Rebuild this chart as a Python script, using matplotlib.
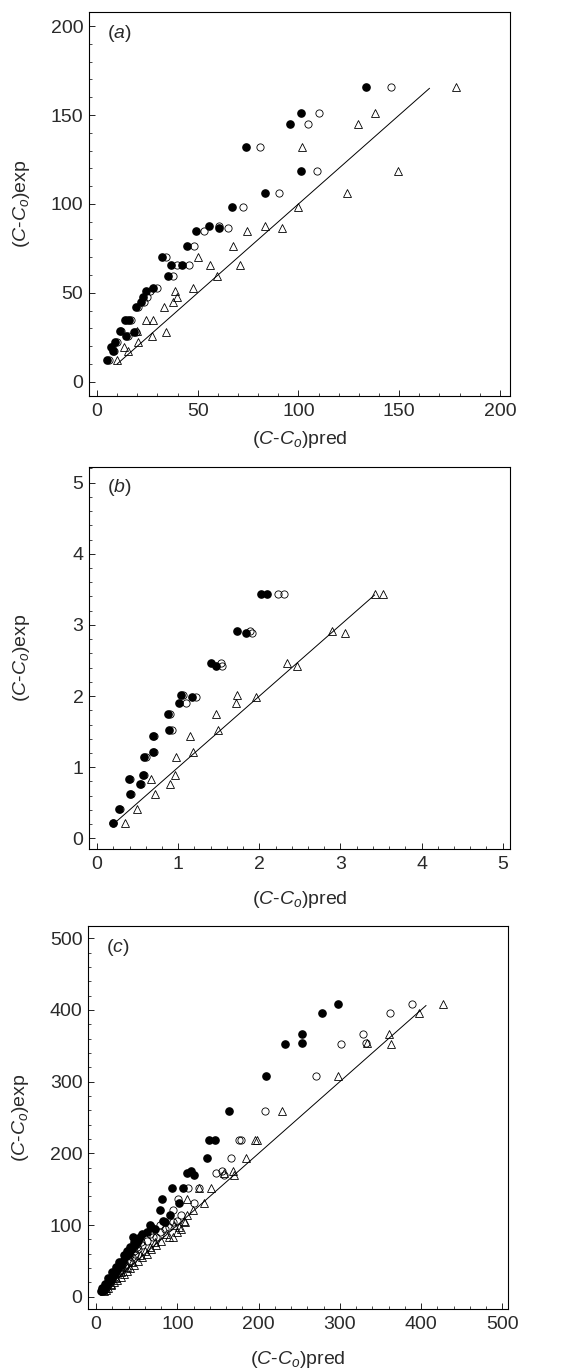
import numpy as np
import matplotlib
matplotlib.use("Agg")
import matplotlib.pyplot as plt
from matplotlib.ticker import MultipleLocator

# panel (a): experimental values and three predictions
exp_a = [12, 17.5, 19.8, 22.6, 25.5, 28.5, 28, 34.5, 34.5, 42, 45, 47.5, 51.3, 52.6,
         59.6, 65.7, 65.7, 70, 76.4, 84.6, 86.2, 87.8, 98, 106, 118.7, 132, 145, 151, 166]
fill_a = [5, 8, 7, 9, 14.2, 11.3, 18.3, 13.7, 15.8, 19.4, 21.9, 23, 24.3, 27.6,
          35.3, 36.8, 42.3, 32, 44.4, 48.9, 60.6, 55.7, 66.8, 83.2, 101, 74, 96, 101, 133.3]
open_a = [6, 8.5, 7.5, 10, 15.2, 12, 19.5, 15, 17, 20.4, 23.5, 25, 26.5, 29.8,
          37.7, 39.9, 45.6, 34.3, 48, 52.9, 65.2, 60.3, 72.5, 90.2, 109.3, 80.7, 104.7, 110, 145.7]
tri_a = [10, 15.5, 13.5, 20.3, 27.3, 20, 34.3, 24.3, 28, 33.2, 37.5, 39.6, 38.7, 47.7,
         59.6, 55.9, 71.2, 50, 67.6, 74.5, 91.7, 83.3, 100, 124, 149.3, 101.5, 129.4, 138, 178]
line_a = [10, 165]

# panel (b)
exp_b = [0.22, 0.42, 0.62, 0.83, 0.76, 0.89, 1.15, 1.21, 1.44, 1.52, 1.75, 1.90, 2.01,
         1.99, 2.46, 2.42, 2.92, 2.89, 3.43, 3.44]
fill_b = [0.19, 0.27, 0.41, 0.39, 0.53, 0.56, 0.58, 0.69, 0.69, 0.88, 0.87, 1.01, 1.03,
          1.17, 1.40, 1.47, 1.73, 1.83, 2.02, 2.09]
open_b = [0.20, 0.28, 0.42, 0.40, 0.54, 0.58, 0.60, 0.70, 0.70, 0.92, 0.90, 1.09, 1.06,
          1.22, 1.53, 1.54, 1.89, 1.91, 2.23, 2.30]
tri_b = [0.34, 0.49, 0.71, 0.66, 0.90, 0.96, 0.97, 1.18, 1.15, 1.49, 1.46, 1.71, 1.72,
         1.96, 2.34, 2.46, 2.89, 3.06, 3.42, 3.53]
line_b = [0.22, 3.42]

# panel (c)
exp_c = [8, 10, 13, 16, 20, 24, 28, 32, 36, 40, 45, 50, 55, 60, 66, 72, 78, 83, 84, 90,
         94, 98, 104, 106, 114, 121, 131, 136.5, 152, 152, 170, 172, 176, 194, 219, 219,
         259.5, 308, 353, 354, 366, 395, 408,
         12, 18, 26, 34, 42, 48, 58, 64, 70, 76, 88, 100]
fill_c = [6, 8, 10, 12, 14, 17, 20, 22, 25, 27, 30, 33, 36, 40, 44, 48, 52, 45, 54, 62,
          73, 68, 85, 82, 91, 78, 101.6, 81, 93.4, 107, 120, 112, 117, 136, 139.5, 145.7,
          164, 209.5, 232, 254, 253, 278, 298,
          7, 11, 15, 19, 24, 28, 34, 38, 42, 46, 56, 66]
open_c = [8, 10, 12, 14, 17, 20, 23, 26, 29, 32, 36, 40, 44, 48, 52, 57, 62, 70, 74, 78,
          85, 90, 95, 100, 105, 95, 120, 101, 113, 127, 157, 148, 155, 165.4, 176, 178,
          208, 271, 301, 332, 329, 362, 389,
          10, 14, 19, 24, 30, 34, 42, 46, 50, 55, 66, 78]
tri_c = [10, 12, 15, 18, 22, 26, 30, 34, 38, 42, 47, 52, 57, 62, 68, 74, 80, 90, 95, 100,
         104, 102, 110, 108, 112, 119, 133, 112, 127, 141, 169.5, 158, 169, 184, 195, 197.5,
         229, 298, 363, 333, 361, 397, 427,
         12, 18, 24, 30, 38, 44, 54, 60, 66, 72, 86, 96]
line_c = [8, 406]

plt.rcParams.update({
    'font.family': ['Liberation Sans', 'DejaVu Sans'],
    'font.size': 14,
    'mathtext.fontset': 'custom',
    'mathtext.rm': 'Liberation Sans',
    'mathtext.it': 'Liberation Sans:italic',
})
txt = '#2a2a2a'


def panel(ax, exp, f, o, t, line, xlim, ylim, major, minor, tag):
    ax.plot(o, exp, 'o', ms=5.2, mfc='none', mec='k', mew=0.6, ls='none')
    ax.plot(t, exp, '^', ms=5.2, mfc='none', mec='k', mew=0.6, ls='none')
    ax.plot(f, exp, 'o', ms=5.2, mfc='k', mec='k', ls='none')
    ax.plot(line, line, 'k-', lw=0.7)
    ax.set_xlim(xlim)
    ax.set_ylim(ylim)
    for a in (ax.xaxis, ax.yaxis):
        a.set_major_locator(MultipleLocator(major))
        a.set_minor_locator(MultipleLocator(minor))
    ax.tick_params(which='both', direction='in', colors='k', labelcolor=txt,
                   labelsize=14)
    ax.tick_params(which='major', length=4, width=0.6)
    ax.tick_params(which='minor', length=2, width=0.5)
    ax.tick_params(axis='x', pad=5)
    ax.tick_params(axis='y', pad=4)
    for s in ax.spines.values():
        s.set_linewidth(0.8)
    ax.set_xlabel(r'($\mathit{C}$-$\mathit{C}_{\mathit{o}}$)pred', color=txt, fontsize=14)
    ax.set_ylabel(r'($\mathit{C}$-$\mathit{C}_{\mathit{o}}$)exp', color=txt, fontsize=14)
    ax.yaxis.set_label_coords(-0.135, 0.5)
    ax.text(0.043, 0.945, '(' + r'$\mathit{' + tag + '}$' + ')', transform=ax.transAxes,
            ha='left', va='center', color=txt, fontsize=14)


fig = plt.figure(figsize=(5.86, 13.71), dpi=100)
ax1 = fig.add_axes([0.1519, 0.7112, 0.7184, 0.2801])
ax2 = fig.add_axes([0.1519, 0.3807, 0.7184, 0.2787])
ax3 = fig.add_axes([0.1502, 0.0452, 0.7167, 0.2794])

panel(ax1, exp_a, fill_a, open_a, tri_a, line_a, (-4, 205), (-8, 208), 50, 10, 'a')
panel(ax2, exp_b, fill_b, open_b, tri_b, line_b, (-0.1, 5.09), (-0.15, 5.22), 1, 0.2, 'b')
panel(ax3, exp_c, fill_c, open_c, tri_c, line_c, (-10, 507), (-17, 517), 100, 20, 'c')

ax1.xaxis.set_label_coords(0.5, -0.085)
ax2.xaxis.set_label_coords(0.5, -0.105)
ax3.xaxis.set_label_coords(0.5, -0.105)

fig.savefig('out.png', dpi=100)
